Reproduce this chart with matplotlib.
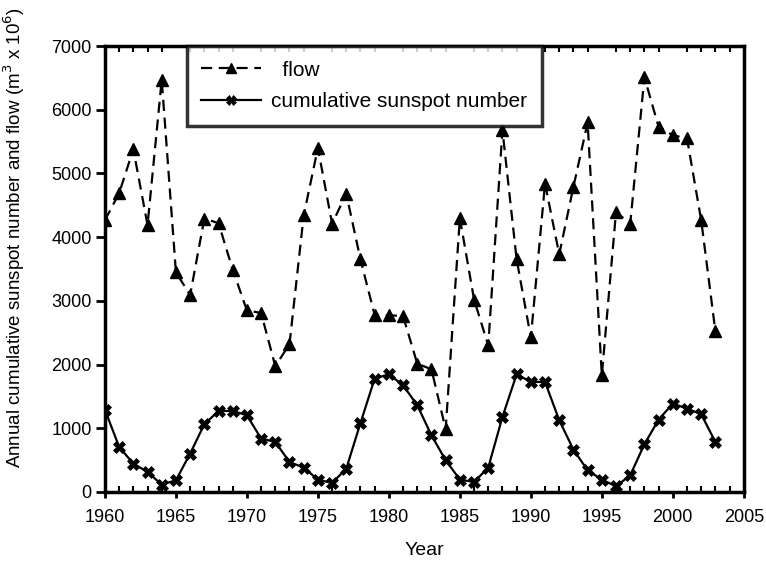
import matplotlib
matplotlib.use("Agg")
import matplotlib.pyplot as plt
from matplotlib.ticker import MultipleLocator

years = list(range(1960, 2004))
flow = [4265, 4690, 5380, 4190, 6470, 3450, 3090, 4290, 4220, 3490,
        2850, 2810, 1975, 2320, 4340, 5400, 4210, 4680, 3650, 2775,
        2775, 2760, 2015, 1925, 985, 4300, 3020, 2300, 5680, 3650,
        2425, 4840, 3730, 4790, 5800, 1830, 4395, 4210, 6510, 5730,
        5600, 5550, 4265, 2520]
sunspot = [1290, 707, 446, 314, 116, 184, 602, 1063, 1272, 1272,
           1204, 838, 785, 471, 383, 195, 141, 367, 1083, 1780,
           1848, 1675, 1361, 890, 498, 195, 157, 383, 1178, 1848,
           1727, 1727, 1126, 665, 340, 195, 89, 262, 749, 1136,
           1388, 1309, 1220, 785]

plt.rcParams['font.family'] = ['Liberation Sans', 'DejaVu Sans']

fig = plt.figure(figsize=(7.66, 5.61), dpi=100)
ax = fig.add_axes([0.137, 0.123, 0.834, 0.795])

ax.plot(years, flow, linestyle=(0, (5, 3)), color='black', linewidth=1.6,
        marker='^', markersize=9, label='  flow')
ax.plot(years, sunspot, linestyle='-', color='black', linewidth=1.6,
        marker='X', markersize=9, markeredgewidth=0.5, label='cumulative sunspot number')

ax.set_xlim(1960, 2005)
ax.set_ylim(0, 7000)
ax.xaxis.set_major_locator(MultipleLocator(5))
ax.xaxis.set_minor_locator(MultipleLocator(1))
ax.yaxis.set_major_locator(MultipleLocator(1000))

for s in ax.spines.values():
    s.set_linewidth(2.5)

ax.tick_params(axis='y', which='major', direction='out', length=6.5, width=2,
               labelsize=13, pad=3)
ax.tick_params(axis='x', which='major', direction='out', length=4.5, width=2,
               labelsize=13, pad=8, top=False)
ax.tick_params(axis='x', which='minor', direction='in', length=4, width=1.5,
               top=True)

ax.set_xlabel('Year', fontsize=14)
ax.xaxis.set_label_coords(0.5, -0.112)
ax.set_ylabel('Annual cumulative sunspot number and flow (m$^3$ x 10$^6$)',
              fontsize=13.5)
ax.yaxis.set_label_coords(-0.122, 0.57)

leg = ax.legend(loc='upper left', bbox_to_anchor=(0.128, 1.0), fontsize=15,
                frameon=True, fancybox=False, borderpad=0.7, handlelength=2.85,
                handletextpad=0.5, labelspacing=0.6, borderaxespad=0.0,
                markerscale=0.75)
leg.get_frame().set_edgecolor('black')
leg.get_frame().set_linewidth(2.5)

fig.savefig('out.png', dpi=100)
